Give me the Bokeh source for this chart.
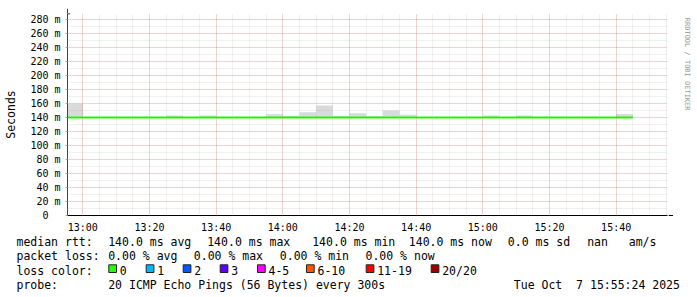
import math
import pandas as pd
from bokeh.plotting import figure
from bokeh.layouts import column, row
from bokeh.core.properties import value
from bokeh.models import (Range1d, SingleIntervalTicker, DatetimeTickFormatter,
                          CustomJSTickFormatter, Arrow, NormalHead, ColumnDataSource)
from bokeh.embed import file_html
from bokeh.resources import INLINE

# ---------------- data ----------------
day = "2025-10-07"
window_start = "12:55:24"
window_end = "15:55:24"
bin_start = ["12:55", "13:00", "13:05", "13:10", "13:15", "13:20", "13:25", "13:30",
             "13:35", "13:40", "13:45", "13:50", "13:55", "14:00", "14:05", "14:10",
             "14:15", "14:20", "14:25", "14:30", "14:35", "14:40", "14:45", "14:50",
             "14:55", "15:00", "15:05", "15:10", "15:15", "15:20", "15:25", "15:30",
             "15:35", "15:40"]
step_seconds = 300
median_ms = [140.0, 140.0, 140.0, 140.0, 140.0, 140.0, 140.0, 140.0, 140.0, 140.0,
             140.0, 140.0, 140.0, 140.0, 140.0, 140.0, 140.0, 140.0, 140.0, 140.0,
             140.0, 140.0, 140.0, 140.0, 140.0, 140.0, 140.0, 140.0, 140.0, 140.0,
             140.0, 140.0, 140.0, 140.0]
min_ms = [140.0, 140.0, 140.0, 140.0, 140.0, 140.0, 140.0, 140.0, 140.0, 140.0,
          140.0, 140.0, 140.0, 140.0, 140.0, 140.0, 140.0, 140.0, 140.0, 140.0,
          140.0, 140.0, 140.0, 140.0, 140.0, 140.0, 140.0, 140.0, 140.0, 140.0,
          140.0, 140.0, 140.0, 140.0]
max_ms = [159.5, 141.0, 141.0, 141.0, 141.0, 141.0, 143.0, 141.0, 143.0, 141.0,
          141.0, 141.0, 144.5, 142.5, 147.5, 157.0, 142.5, 146.0, 142.0, 150.0,
          144.0, 141.0, 141.0, 141.0, 141.0, 143.0, 141.0, 143.0, 141.0, 141.0,
          141.0, 141.0, 141.0, 145.0]
y_max_ms = 288.57

NB = "\u00a0"
line1 = [("median rtt:", 16), ("140.0 ms avg", 107.7), ("140.0 ms max", 206.7),
         ("140.0 ms min", 311.7), ("140.0 ms now", 408.3), ("0.0 ms sd", 507.3),
         ("nan" + NB * 3 + "am/s", 586.7)]
line2 = [("packet loss:", 16), ("0.00 % avg", 107.7), ("0.00 % max", 193.3),
         ("0.00 % min", 279.3), ("0.00 % now", 365.0)]
line3 = [("loss color:", 16)]
loss_labels = ["0", "1", "2", "3", "4-5", "6-10", "11-19", "20/20"]
loss_colors = ["#26ff00", "#00b8ff", "#0059ff", "#5e00ff", "#ff00ff", "#ff5500",
               "#ff0000", "#a00000"]
loss_square_x = [108.3, 145.7, 182.7, 219.7, 257.0, 306.0, 365.7, 430.7]
line4 = [("probe:", 16), ("20 ICMP Echo Pings (56 Bytes) every 300s", 107.7),
         ("Tue Oct" + NB * 2 + "7 15:55:24 2025", 513.3)]
watermark = "RRDTOOL / TOBI OETIKER"

# ---------------- layout constants ----------------
W, H = 697, 297
FRAME_L, FRAME_R, FRAME_T, FRAME_B = 67, 667, 13, 215
MAIN_W, MAIN_H = 673, 235
MONO = "DejaVu Sans Mono"
LINE_Y = [241.5, 255.8, 270.0, 284.2]

def to_ms(t):
    return pd.Timestamp(f"{day} {t}").value / 1e6

x0 = to_ms(window_start)
x1 = to_ms(window_end)
left = [to_ms(t) for t in bin_start]
right = [l + step_seconds * 1000 for l in left]
src = ColumnDataSource(dict(left=left, right=right, bottom=min_ms, top=max_ms,
                            med=median_ms))

# ---------------- main chart ----------------
p = figure(width=MAIN_W, height=MAIN_H, output_backend="svg", toolbar_location=None,
           x_axis_type="datetime",
           x_range=Range1d(x0, x1), y_range=Range1d(0, y_max_ms),
           min_border_left=FRAME_L, min_border_right=MAIN_W - FRAME_R,
           min_border_top=FRAME_T, min_border_bottom=MAIN_H - FRAME_B)
p.outline_line_color = None
p.background_fill_color = "white"
p.border_fill_color = "white"

p.quad(left="left", right="right", bottom="bottom", top="top", source=src,
       fill_color="#dadada", line_color=None)
p.segment(x0="left", x1="right", y0="med", y1="med", source=src,
          line_color=loss_colors[0], line_width=2, line_cap="butt")

p.xaxis.ticker = SingleIntervalTicker(interval=20 * 60 * 1000, num_minor_ticks=4)
p.xaxis.formatter = DatetimeTickFormatter(minutes="%H:%M", hourmin="%H:%M",
                                          hours="%H:%M", minsec="%H:%M")
p.yaxis.ticker = SingleIntervalTicker(interval=20, num_minor_ticks=2)
p.yaxis.formatter = CustomJSTickFormatter(
    code="return tick == 0 ? '0\\u00a0\\u00a0' : tick.toFixed(0) + ' m';")

for ax in (p.xaxis[0], p.yaxis[0]):
    ax.major_label_text_font = MONO
    ax.major_label_text_font_size = "10px"
    ax.major_label_text_color = "#000000"
    ax.minor_tick_out = 0
    ax.minor_tick_in = 0
    ax.major_tick_in = 0
p.xaxis.axis_line_color = "#000000"
p.xaxis.major_tick_out = 0
p.xaxis.major_label_standoff = 6
p.yaxis.axis_line_color = "#444444"
p.yaxis.major_tick_out = 2
p.yaxis.major_tick_line_color = "#aaaaaa"
p.yaxis.major_label_standoff = 5
p.yaxis.axis_label = "Seconds"
p.yaxis.axis_label_text_font = MONO
p.yaxis.axis_label_text_font_size = "11.5px"
p.yaxis.axis_label_text_font_style = "normal"
p.yaxis.axis_label_text_color = "#000000"
p.yaxis.axis_label_standoff = 9

for g in (p.xgrid[0], p.ygrid[0]):
    g.level = "overlay"
    g.grid_line_color = "#de3030"
    g.grid_line_alpha = 0.3
    g.grid_line_dash = "1 1"
    g.minor_grid_line_color = "#8f8f8f"
    g.minor_grid_line_alpha = 0.28
    g.minor_grid_line_dash = "1 1"

px_per_ms_x = (FRAME_R - FRAME_L) / (x1 - x0)
px_per_unit_y = (FRAME_B - FRAME_T) / y_max_ms
arrow_col = "#a01010"
p.add_layout(Arrow(end=NormalHead(size=5, fill_color=arrow_col, line_color=arrow_col),
                   x_start=x0, y_start=y_max_ms, x_end=x0,
                   y_end=y_max_ms + 4.7 / px_per_unit_y, line_color="#444444",
                   line_width=1))
p.add_layout(Arrow(end=NormalHead(size=5, fill_color=arrow_col, line_color=arrow_col),
                   x_start=x1, y_start=0, x_end=x1 + 6.3 / px_per_ms_x,
                   y_end=0, line_color="#000000", line_width=1))

# ---------------- watermark strip (canvas pixel coordinates) ----------------
wm = figure(width=W - MAIN_W, height=MAIN_H, output_backend="svg",
            toolbar_location=None, x_range=Range1d(MAIN_W, W),
            y_range=Range1d(MAIN_H, 0), min_border=0,
            x_axis_location=None, y_axis_location=None)
wm.grid.visible = False
wm.outline_line_color = None
wm.text(x=[686], y=[5], text=[watermark], angle=-math.pi / 2,
        text_font=value(MONO), text_font_size=value("7px"), text_color="#999999",
        text_align="left", text_baseline="middle")

# ---------------- legend strip (canvas pixel coordinates) ----------------
lg = figure(width=W, height=H - MAIN_H, output_backend="svg", toolbar_location=None,
            x_range=Range1d(0, W), y_range=Range1d(H, MAIN_H), min_border=0,
            x_axis_location=None, y_axis_location=None)
lg.grid.visible = False
lg.outline_line_color = None

tx, ty, tt = [], [], []
for items, base in zip((line1, line2, line3, line4), LINE_Y):
    for txt, x in items:
        tx.append(x); ty.append(base); tt.append(txt)
for lab, sx in zip(loss_labels, loss_square_x):
    tx.append(sx + 11); ty.append(LINE_Y[2]); tt.append(lab)
lg.text(x=tx, y=ty, text=tt, text_font=value(MONO), text_font_size=value("11.5px"),
        text_color="#000000", text_align="left", text_baseline="alphabetic")
lg.quad(left=loss_square_x, right=[s + 7.7 for s in loss_square_x],
        top=[264.3] * len(loss_square_x), bottom=[272.0] * len(loss_square_x),
        fill_color=loss_colors, line_color="#222222", line_width=1)

layout = column(row(p, wm), lg)
open("out.html", "w").write(file_html(layout, INLINE))
